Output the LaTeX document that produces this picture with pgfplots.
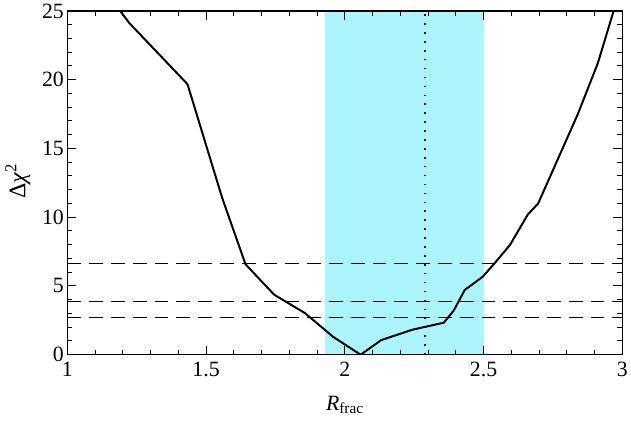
\documentclass[border=0pt]{standalone}
\usepackage{pgfplots}
\pgfplotsset{compat=1.18}
\usepackage{fontspec}
\setmainfont{Liberation Serif}
\definecolor{shade}{RGB}{170,246,252}
\begin{document}
\begin{tikzpicture}[font=\fontsize{22}{26}\selectfont]
\begin{axis}[
  scale only axis,
  width=560pt, height=347pt,
  xmin=1, xmax=3, ymin=0, ymax=25,
  xtick={1,1.5,2,2.5,3},
  ytick={0,5,10,15,20,25},
  minor x tick num=4,
  minor y tick num=4,
  tick align=inside,
  major tick length=9pt,
  minor tick length=5pt,
  every tick/.style={black, line width=1pt},
  axis line style={line width=1.3pt},
  /pgf/number format/assume math mode=true,
  xticklabel={\pgfmathprintnumber{\tick}},
  yticklabel={\pgfmathprintnumber{\tick}},
  tick label style={font=\fontsize{22}{26}\selectfont},
  label style={font=\fontsize{22}{26}\selectfont},
  xticklabel style={yshift=-4pt},
  xlabel={\textit{R}\textsubscript{frac}},
  ylabel={\fontsize{24}{28}\selectfont Δ\textit{χ}\textsuperscript{2}},
  xlabel style={at={(axis description cs:0.5,0)}, anchor=base, yshift=-56pt},
  ylabel style={at={(axis description cs:-0.0893,0.505)}, anchor=center},
  axis on top,
  clip=true,
]
\addplot[draw=none, fill=shade] coordinates {(1.928,0) (2.502,0) (2.502,25) (1.928,25)} -- cycle;
\addplot[black, line width=1pt, dash pattern=on 14pt off 8pt] coordinates {(1,6.63) (3,6.63)};
\addplot[black, line width=1pt, dash pattern=on 14pt off 8pt] coordinates {(1,3.84) (3,3.84)};
\addplot[black, line width=1pt, dash pattern=on 14pt off 8pt] coordinates {(1,2.71) (3,2.71)};
\addplot[black, line width=1.6pt, dash pattern=on 1.6pt off 7.4pt] coordinates {(2.289,0) (2.289,25)};
\addplot[black, line width=2pt] coordinates {
(1.19,25.0) (1.224,24.1) (1.433,19.67) (1.558,11.4) (1.642,6.58)
(1.745,4.37) (1.856,3.03) (1.958,1.30) (2.057,0.0) (2.131,1.06)
(2.244,1.82) (2.357,2.33) (2.393,3.22) (2.432,4.70) (2.497,5.67)
(2.542,6.70) (2.596,8.0) (2.659,10.18) (2.697,11.0) (2.840,17.5)
(2.912,21.2) (2.969,25.0)
};
\end{axis}
\path ([shift={(-68pt,-66pt)}]current axis.south west) rectangle ([shift={(6pt,11pt)}]current axis.north east);
\end{tikzpicture}
\end{document}
